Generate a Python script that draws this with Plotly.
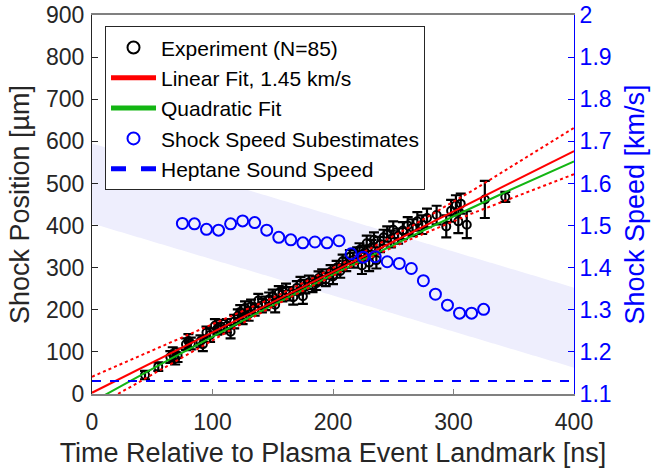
import plotly.graph_objects as go
import numpy as np

# ---------------- data ----------------
exp_t = [44, 55, 65, 67, 69, 71, 78, 80, 82, 90, 92, 95, 98, 102, 104, 107, 112, 115, 118, 121,
         123, 125, 127, 130, 132, 135, 138, 141, 144, 147, 150, 152, 155, 158, 161, 164, 167, 170, 173, 175,
         177, 180, 183, 186, 188, 191, 194, 198, 200, 203, 206, 208, 211, 214, 217, 220, 222, 224, 226, 228,
         230, 232, 234, 236, 239, 242, 245, 248, 250, 254, 258, 262, 266, 270, 274, 278, 306, 286, 302, 294,
         298, 304, 311, 326, 343]
exp_pos = [45, 65, 88, 95, 84, 92, 118, 126, 120, 125, 118, 146, 140, 162, 155, 160, 162, 148, 172, 185,
           195, 180, 204, 190, 208, 200, 222, 210, 215, 225, 232, 212, 240, 236, 246, 238, 230, 252, 262, 232,
           255, 265, 258, 263, 275, 280, 272, 290, 279, 300, 292, 315, 308, 326, 318, 330, 342, 305, 335, 358,
           312, 348, 366, 318, 355, 372, 380, 368, 390, 375, 388, 400, 395, 410, 402, 418, 452, 425, 448, 398,
           435, 410, 402, 462, 468]
exp_err = [10, 10, 14, 16, 14, 16, 14, 16, 14, 14, 16, 14, 16, 16, 14, 16, 16, 16, 16, 16,
           16, 14, 16, 16, 16, 14, 16, 16, 16, 16, 16, 18, 16, 16, 16, 16, 18, 16, 16, 18,
           16, 16, 16, 16, 16, 16, 16, 16, 18, 16, 16, 16, 16, 16, 18, 18, 16, 20, 18, 18,
           20, 18, 18, 20, 18, 18, 18, 20, 20, 18, 20, 20, 20, 22, 22, 22, 24, 22, 24, 26,
           26, 28, 32, 44, 12]

speed_t = [75, 85, 95, 105, 115, 125, 135, 145, 155, 165, 175, 185, 195, 205, 215,
           225, 235, 245, 255, 265, 275, 285, 295, 305, 315, 325]
speed_val = [1.505, 1.504, 1.491, 1.489, 1.504, 1.511, 1.507, 1.489, 1.472, 1.466, 1.459, 1.461, 1.459,
             1.464, 1.433, 1.425, 1.426, 1.414, 1.410, 1.398, 1.369, 1.337, 1.311, 1.292, 1.292, 1.301]

heptane_speed = 1.131          # km/s

# fit parameters
lin_slope, lin_icpt = 1.435, 3.0                 # um/ns, um
quad_c0, quad_c1, quad_c2 = -19.2, 1.60, -0.000428
# linear-fit confidence bounds (t, +/- half width)
ci_t = [0, 50, 100, 150, 200, 250, 300, 350, 400]
ci_hw = [38, 28, 18, 10, 8, 12, 22, 38, 55]
# quadratic speed band half width (km/s)
band_hw = 0.095

x_ticks = [0, 100, 200, 300, 400]
y_ticks = [0, 100, 200, 300, 400, 500, 600, 700, 800, 900]
y2_ticks = [1.1, 1.2, 1.3, 1.4, 1.5, 1.6, 1.7, 1.8, 1.9, 2.0]
y2_text = ["1.1", "1.2", "1.3", "1.4", "1.5", "1.6", "1.7", "1.8", "1.9", "2"]

# ---------------- derived curves ----------------
tt = np.linspace(0, 400, 201)
lin = lin_icpt + lin_slope * tt
quad = quad_c0 + quad_c1 * tt + quad_c2 * tt ** 2
hw = np.interp(tt, ci_t, ci_hw)
dq = quad_c1 + 2 * quad_c2 * tt
band_up = dq + band_hw
band_lo = dq - band_hw

FONT = "Liberation Sans, Arial, sans-serif"
TXT = "#262626"

fig = go.Figure()

fig.add_trace(go.Scatter(
    x=exp_t, y=exp_pos, mode="markers", name="Experiment (N=85)",
    marker=dict(symbol="circle-open", size=8, color="black", line=dict(width=2, color="black")),
    error_y=dict(type="data", array=exp_err, visible=True, color="black", thickness=2.2, width=5),
))
fig.add_trace(go.Scatter(x=tt, y=lin, mode="lines", name="Linear Fit, 1.45 km/s",
                         line=dict(color="#ff0000", width=2)))
fig.add_trace(go.Scatter(x=tt, y=quad, mode="lines", name="Quadratic Fit",
                         line=dict(color="#13b513", width=2)))
fig.add_trace(go.Scatter(x=tt, y=lin + hw, mode="lines", showlegend=False,
                         line=dict(color="#ff0000", width=2, dash="dot")))
fig.add_trace(go.Scatter(x=tt, y=lin - hw, mode="lines", showlegend=False,
                         line=dict(color="#ff0000", width=2, dash="dot")))
fig.add_trace(go.Scatter(x=speed_t, y=speed_val, mode="markers", name="Shock Speed Subestimates",
                         yaxis="y2",
                         marker=dict(symbol="circle-open", size=11, color="#0000ff",
                                     line=dict(width=2, color="#0000ff"))))
fig.add_trace(go.Scatter(x=[0, 400], y=[heptane_speed, heptane_speed], mode="lines",
                         name="Heptane Sound Speed", yaxis="y2",
                         line=dict(color="#0000ff", width=2, dash="dash")))

# band drawn below traces as a shape on the right axis
path = "M " + " L ".join(f"{x},{y}" for x, y in zip(tt, band_up))
path += " L " + " L ".join(f"{x},{y}" for x, y in zip(tt[::-1], band_lo[::-1])) + " Z"
fig.add_shape(type="path", path=path, xref="x", yref="y2", layer="below",
              fillcolor="rgb(238,238,253)", line=dict(width=0))

fig.update_layout(
    width=655, height=468,
    margin=dict(l=92, r=81, t=15, b=74, autoexpand=False),
    paper_bgcolor="white", plot_bgcolor="white",
    font=dict(family=FONT, size=23, color=TXT),
    showlegend=True,
    legend=dict(x=0.027, y=0.97, xanchor="left", yanchor="top",
                bgcolor="white", bordercolor="#262626", borderwidth=1,
                font=dict(family=FONT, size=21, color="black"),
                tracegroupgap=0, itemsizing="constant", itemwidth=45),
    xaxis=dict(range=[0, 400], tickvals=x_ticks, ticks="inside", ticklen=5,
               tickcolor="#808080", showline=True, linecolor="#808080", linewidth=1.5,
               mirror=True, showgrid=False, zeroline=False, automargin=False,
               ticklabelstandoff=7,
               title=dict(text="Time Relative to Plasma Event Landmark [ns]",
                          font=dict(size=27, color=TXT), standoff=10),
               tickfont=dict(size=23, color=TXT)),
    yaxis=dict(range=[0, 900], tickvals=y_ticks, ticks="inside", ticklen=6,
               tickcolor="#262626", showline=True, linecolor="#262626", linewidth=1,
               showgrid=False, zeroline=False, automargin=False, ticklabelstandoff=2,
               title=dict(text="Shock Position [µm]", font=dict(size=27, color=TXT), standoff=8),
               tickfont=dict(size=23, color=TXT)),
    yaxis2=dict(range=[1.1, 2.0], tickvals=y2_ticks, ticktext=y2_text, overlaying="y", side="right",
                ticks="inside", ticklen=6, tickcolor="#0000ff", showline=True,
                linecolor="#0000ff", linewidth=1, showgrid=False, zeroline=False, automargin=False,
                title=dict(text="Shock Speed [km/s]", font=dict(size=27, color="#0000ff"), standoff=14),
                tickfont=dict(size=23, color="#0000ff")),
)

fig.write_html("out.html")
